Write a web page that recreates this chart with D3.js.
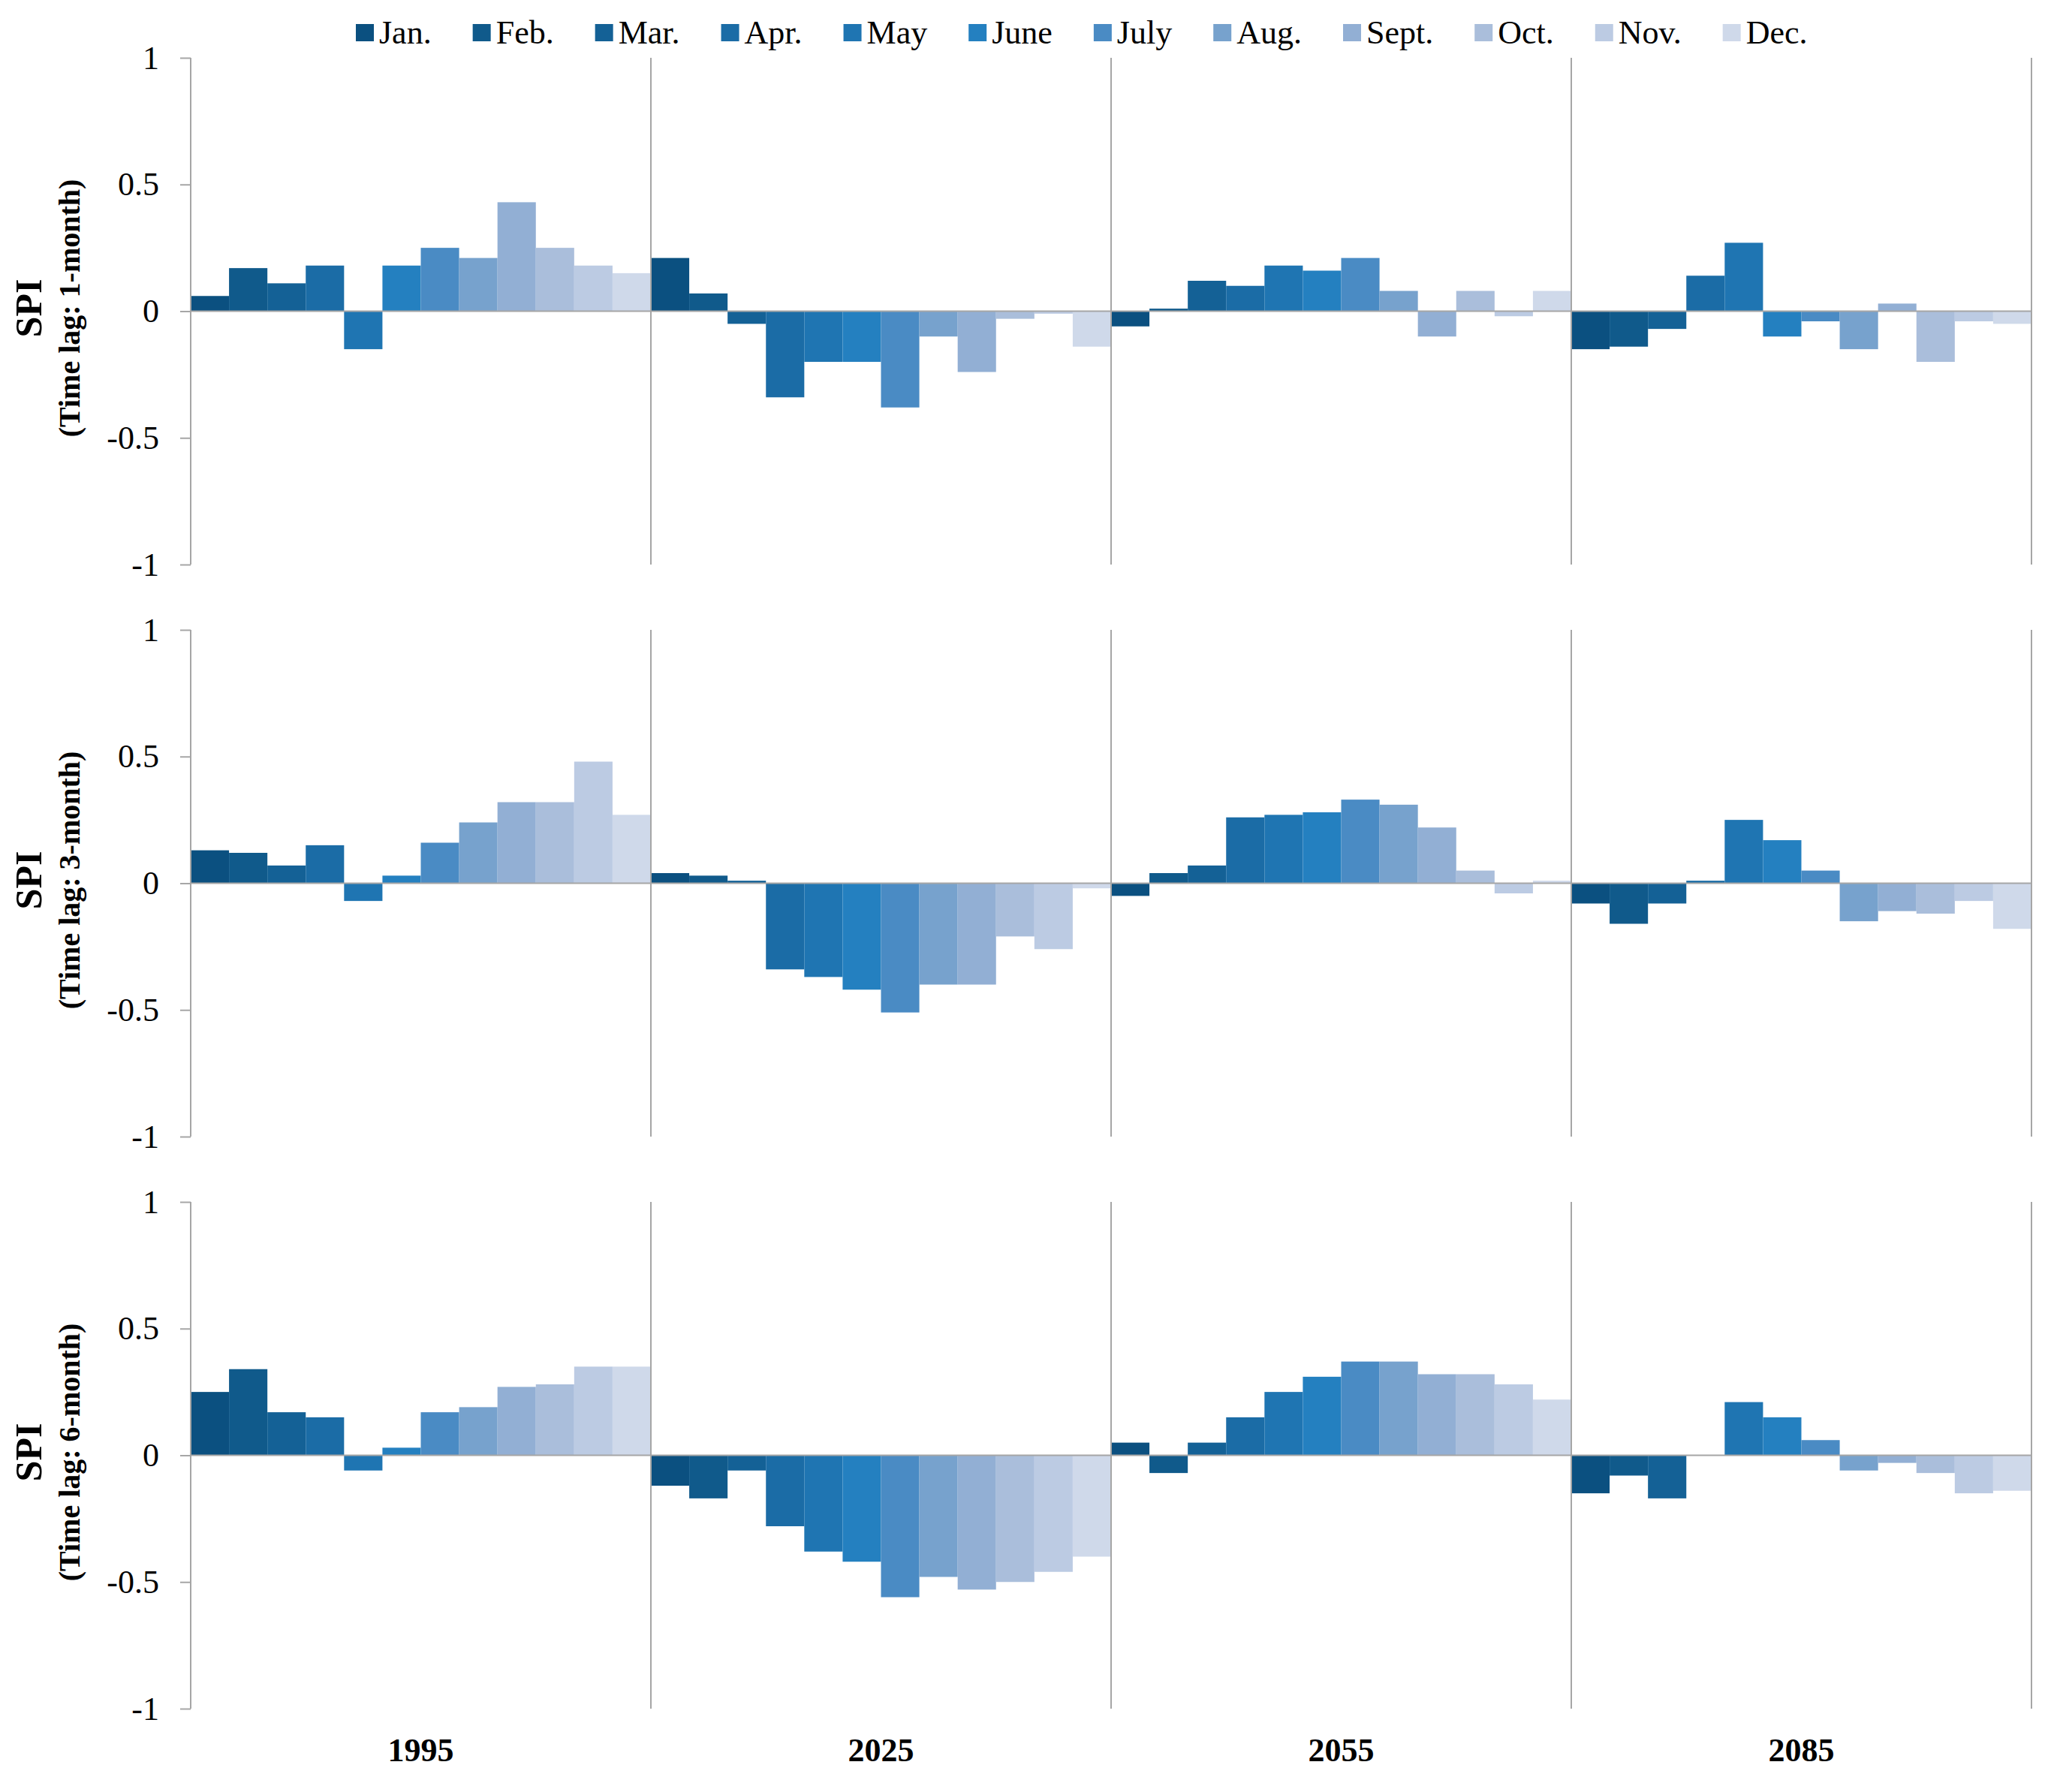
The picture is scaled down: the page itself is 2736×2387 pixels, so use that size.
<!DOCTYPE html>
<html>
<head>
	<meta charset="UTF-8">
	<title>SPI by month</title>
	<script src="https://d3js.org/d3.v7.min.js"></script>
	<style>
		body { margin: 0; background: #fff; }
		text { font-family: "Liberation Serif", "Times New Roman", serif; fill: #000; }
	</style>
</head>
<body>
	<script>
		// Categories
		var months = ["Jan.", "Feb.", "Mar.", "Apr.", "May", "June", "July", "Aug.", "Sept.", "Oct.", "Nov.", "Dec."];
		var years = ["1995", "2025", "2055", "2085"];
		var lagLabels = ["(Time lag: 1-month)", "(Time lag: 3-month)", "(Time lag: 6-month)"];
		var monthColors = ["#0b5080", "#105a8b", "#146196", "#1b6ca6", "#1f75b2", "#2480c0",
			"#4a8bc4", "#77a2cd", "#92afd4", "#aabedb", "#bccbe3", "#cfd9ea"];
		var yTicks = [-1, -0.5, 0, 0.5, 1];

		// SPI values, one row of 12 months per year
		var spiLag1 = [
			[0.06, 0.17, 0.11, 0.18, -0.15, 0.18, 0.25, 0.21, 0.43, 0.25, 0.18, 0.15],
			[0.21, 0.07, -0.05, -0.34, -0.20, -0.20, -0.38, -0.10, -0.24, -0.03, -0.01, -0.14],
			[-0.06, 0.01, 0.12, 0.10, 0.18, 0.16, 0.21, 0.08, -0.10, 0.08, -0.02, 0.08],
			[-0.15, -0.14, -0.07, 0.14, 0.27, -0.10, -0.04, -0.15, 0.03, -0.20, -0.04, -0.05]
		];
		var spiLag3 = [
			[0.13, 0.12, 0.07, 0.15, -0.07, 0.03, 0.16, 0.24, 0.32, 0.32, 0.48, 0.27],
			[0.04, 0.03, 0.01, -0.34, -0.37, -0.42, -0.51, -0.40, -0.40, -0.21, -0.26, -0.02],
			[-0.05, 0.04, 0.07, 0.26, 0.27, 0.28, 0.33, 0.31, 0.22, 0.05, -0.04, 0.01],
			[-0.08, -0.16, -0.08, 0.01, 0.25, 0.17, 0.05, -0.15, -0.11, -0.12, -0.07, -0.18]
		];
		var spiLag6 = [
			[0.25, 0.34, 0.17, 0.15, -0.06, 0.03, 0.17, 0.19, 0.27, 0.28, 0.35, 0.35],
			[-0.12, -0.17, -0.06, -0.28, -0.38, -0.42, -0.56, -0.48, -0.53, -0.50, -0.46, -0.40],
			[0.05, -0.07, 0.05, 0.15, 0.25, 0.31, 0.37, 0.37, 0.32, 0.32, 0.28, 0.22],
			[-0.15, -0.08, -0.17, 0.00, 0.21, 0.15, 0.06, -0.06, -0.03, -0.07, -0.15, -0.14]
		];
		var panels = [spiLag1, spiLag3, spiLag6];

		// Layout
		var W = 2736, H = 2387;
		var left = 254, right = 2706;
		var panelTop = 77, panelH = 675, panelStep = 762;
		var axisColor = "#a6a6a6";

		var svg = d3.select("body").append("svg")
			.attr("width", W)
			.attr("height", H);

		// Group (year) scale and inner month scale
		var x0 = d3.scaleBand().domain(years).range([left, right]).padding(0);
		var x1 = d3.scaleBand().domain(months).range([0, x0.bandwidth()]).padding(0);
		var y = d3.scaleLinear().domain([-1, 1]).range([panelH, 0]);

		panels.forEach(function(series, p) {
			var g = svg.append("g")
				.attr("transform", "translate(0," + (panelTop + p * panelStep) + ")");

			// Bars
			years.forEach(function(yr, yi) {
				g.append("g")
					.attr("transform", "translate(" + x0(yr) + ",0)")
					.selectAll("rect")
					.data(series[yi])
					.enter().append("rect")
						.attr("x", function(d, i) { return x1(months[i]); })
						.attr("width", x1.bandwidth())
						.attr("y", function(d) { return Math.min(y(d), y(0)); })
						.attr("height", function(d) { return Math.abs(y(d) - y(0)); })
						.attr("fill", function(d, i) { return monthColors[i]; });
			});

			// Zero line
			g.append("line")
				.attr("x1", left).attr("x2", right)
				.attr("y1", y(0)).attr("y2", y(0))
				.attr("stroke", axisColor).attr("stroke-width", 2);

			// Year separators
			years.forEach(function(yr) {
				var xe = x0(yr) + x0.bandwidth();
				g.append("line")
					.attr("x1", xe).attr("x2", xe)
					.attr("y1", 0).attr("y2", panelH)
					.attr("stroke", axisColor).attr("stroke-width", 2);
			});

			// Left axis (plain hyphen for negatives, like the original)
			var ax = g.append("g")
				.attr("transform", "translate(" + left + ",0)")
				.call(d3.axisLeft(y).tickValues(yTicks).tickSize(14).tickPadding(28)
					.tickFormat(function(d) { return String(d); }));
			ax.selectAll("path, line").attr("stroke", axisColor).attr("stroke-width", 2);
			ax.select(".domain").attr("d", "M0,0V" + panelH);
			ax.selectAll("text")
				.attr("fill", "#000")
				.style("font-family", "'Liberation Serif', 'Times New Roman', serif")
				.style("font-size", "44px");

			// Y labels
			var cy = y(0) - 4;
			g.append("text")
				.attr("transform", "translate(55," + cy + ") rotate(-90)")
				.attr("text-anchor", "middle")
				.style("font-size", "50px")
				.style("font-weight", "bold")
				.text("SPI");
			g.append("text")
				.attr("transform", "translate(106," + cy + ") rotate(-90)")
				.attr("text-anchor", "middle")
				.style("font-size", "40px")
				.style("font-weight", "bold")
				.text(lagLabels[p]);
		});

		// Year labels under the last panel
		svg.selectAll(".year")
			.data(years)
			.enter().append("text")
				.attr("class", "year")
				.attr("x", function(d) { return x0(d) + x0.bandwidth() / 2; })
				.attr("y", 2346)
				.attr("text-anchor", "middle")
				.style("font-size", "44px")
				.style("font-weight", "bold")
				.text(function(d) { return d; });

		// Legend
		var legend = svg.append("g").attr("transform", "translate(474,0)");
		var lx = 0;
		months.forEach(function(m, i) {
			legend.append("rect")
				.attr("x", lx).attr("y", 32)
				.attr("width", 24).attr("height", 23)
				.attr("fill", monthColors[i]);
			var t = legend.append("text")
				.attr("x", lx + 31).attr("y", 58)
				.style("font-size", "44px")
				.text(m);
			lx += 31 + t.node().getComputedTextLength() + 55;
		});
	</script>
</body>
</html>
